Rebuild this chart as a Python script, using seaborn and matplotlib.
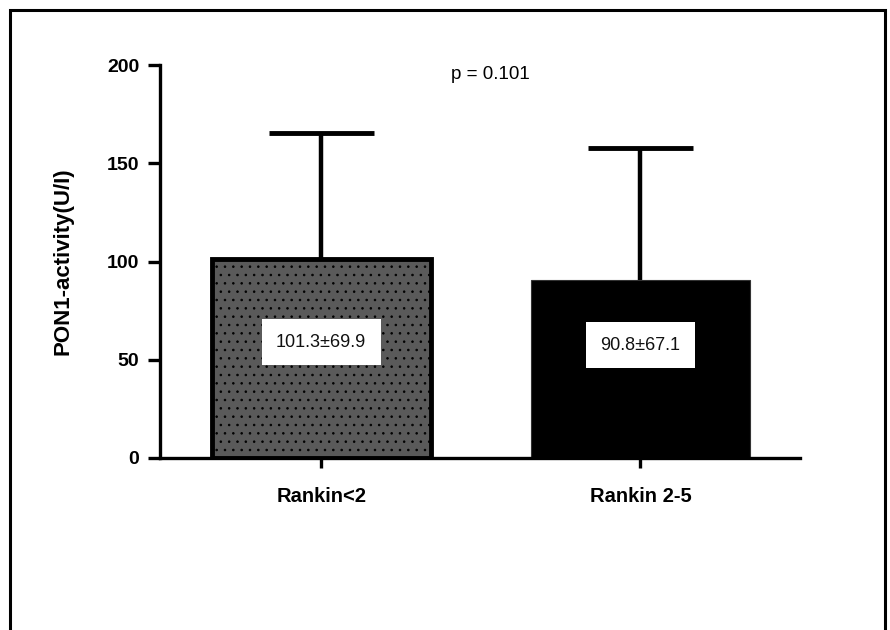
import matplotlib
matplotlib.use("Agg")
import matplotlib.pyplot as plt
import seaborn as sns
import pandas as pd
from matplotlib.patches import Rectangle

categories = ["Rankin<2", "Rankin 2-5"]
means = [101.3, 90.8]
upper_err = [64.0, 67.1]
box_labels = ["101.3\u00b169.9", "90.8\u00b167.1"]
box_y = [59, 57.5]
yticks = [0, 50, 100, 150, 200]
p_text = "p = 0.101"

sns.set_theme(style="white")
plt.rcParams["font.family"] = ["Liberation Sans", "DejaVu Sans"]
plt.rcParams["hatch.linewidth"] = 0.6
plt.rcParams["hatch.color"] = "black"
plt.rcParams["text.color"] = "black"
plt.rcParams["xtick.color"] = "black"
plt.rcParams["ytick.color"] = "black"
plt.rcParams["axes.labelcolor"] = "black"

df = pd.DataFrame({"group": categories, "value": means})
df["top"] = [m + e for m, e in zip(means, upper_err)]

fig = plt.figure(figsize=(8.9, 6.3), dpi=100)
ax = fig.add_axes([160 / 890, 1 - 458 / 630, 640 / 890, 393 / 630])

sns.barplot(data=df, x="group", y="value", order=categories, errorbar=None,
            width=0.685, ax=ax, palette=["#5a5a5a", "#000000"], hue="group",
            legend=False, saturation=1, zorder=2)

bars = ax.patches
bars[0].set_hatch("..")
bars[0].set_edgecolor("black")
bars[0].set_linewidth(3.5)
bars[1].set_edgecolor("#333333")
bars[1].set_linewidth(0.8)

xpos = [0, 1]
ax.vlines(xpos, df["value"], df["top"], colors="black", linewidth=3.2, zorder=1)
ax.hlines(df["top"], [x - 0.165 for x in xpos], [x + 0.165 for x in xpos],
          colors="black", linewidth=3.5, zorder=1)

for i, (t, yb) in enumerate(zip(box_labels, box_y)):
    ax.text(i, yb, t, ha="center", va="center", fontsize=13, color="#111111",
            bbox=dict(boxstyle="square,pad=0.8", facecolor="white", edgecolor="none"),
            zorder=5)

ax.text(0.53, 195, p_text, ha="center", va="center", fontsize=13.5, color="black")

ax.set_xlim(-0.505, 1.5)
ax.set_ylim(0, 200)
ax.set_yticks(yticks)
ax.set_yticklabels([str(v) for v in yticks], fontsize=14, fontweight="bold")
ax.set_xticks([0, 1])
ax.set_xticklabels(categories, fontsize=14.5, fontweight="bold")
ax.set_xlabel("")
ax.set_ylabel("PON1-activity(U/I)", fontsize=16, fontweight="bold", labelpad=24)

sns.despine(ax=ax)
for s in ["left", "bottom"]:
    ax.spines[s].set_linewidth(2.4)
    ax.spines[s].set_color("black")
ax.tick_params(axis="y", direction="out", length=9, width=2.4, color="black", pad=6, left=True)
ax.tick_params(axis="x", direction="out", length=7, width=2.4, color="black", pad=14, bottom=True)

fig.patches.append(Rectangle((10 / 890, -0.05), 875 / 890, 1.05 - 10 / 630,
                             transform=fig.transFigure, fill=False,
                             edgecolor="black", linewidth=2.2))

fig.savefig("out.png", dpi=100)
